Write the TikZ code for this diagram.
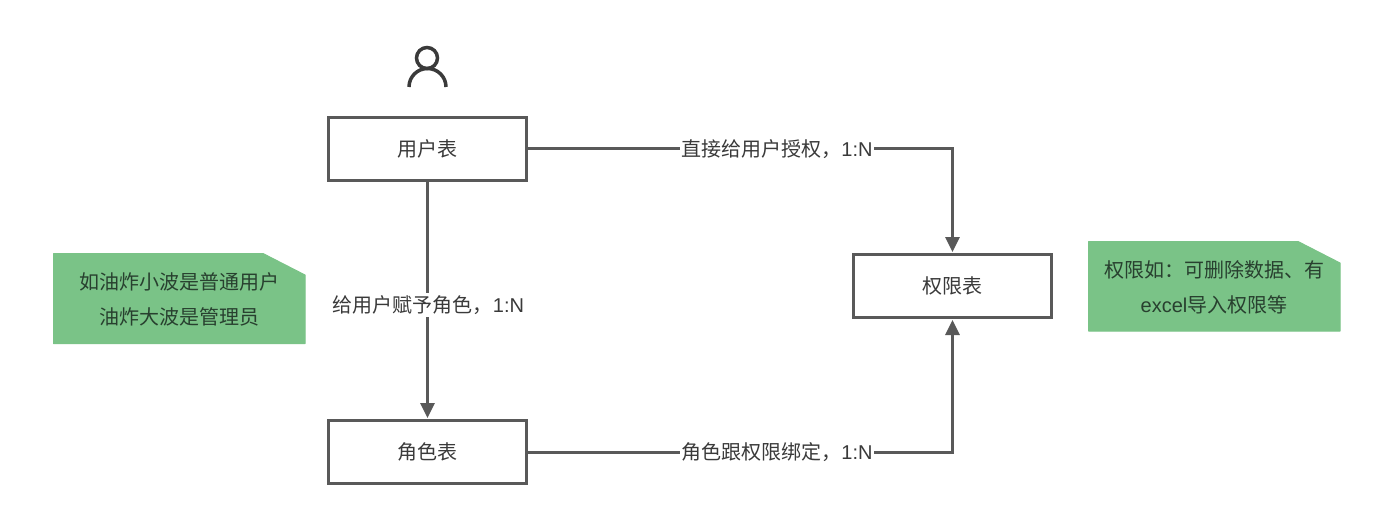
\documentclass[tikz,border=0pt]{standalone}
\usepackage{fontspec}
\setmainfont{Liberation Sans}
\newfontfamily\cjk{Noto Sans CJK SC}[Scale=1.0]
\usetikzlibrary{arrows.meta}
\definecolor{edgegray}{HTML}{595959}
\definecolor{inkgray}{HTML}{3A3A3A}
\definecolor{notegreen}{HTML}{7AC387}
\definecolor{noteink}{HTML}{28402F}
\tikzset{
  x=1pt,y=-1pt,
  tablebox/.style={draw=edgegray,line width=3pt,fill=white,minimum width=198pt,minimum height=63pt,inner sep=0pt,
    text=inkgray,font=\fontsize{20pt}{24pt}\selectfont\cjk},
  conn/.style={draw=edgegray,line width=3pt},
  connarrow/.style={conn,-{Triangle[length=15pt,width=14pt]},shorten >=1pt},
  edgelabel/.style={fill=white,inner xsep=1pt,inner ysep=2pt,text=inkgray,font=\fontsize{20pt}{24pt}\selectfont},
  notebody/.style={fill=notegreen,draw=notegreen,line width=1pt,line join=round},
  notetext/.style={align=center,text=noteink,inner sep=0pt,font=\fontsize{20pt}{35pt}\selectfont},
}
\begin{document}
\begin{tikzpicture}
\useasboundingbox (0,0) rectangle (1400,532);
\fill[white] (0,0) rectangle (1400,532);

% Table boxes
\node[tablebox] (users) at (427.5,149) {用户表};
\node[tablebox] (roles) at (427.5,452) {角色表};
\node[tablebox] (perms) at (952.5,286) {权限表};

% Person icon above the users table
\draw[draw=inkgray,line width=3.5pt] (427,58) circle (10.5pt);
\draw[draw=inkgray,line width=3.5pt] (409,87) arc[start angle=180,end angle=360,radius=18.5];

% Connectors
\draw[connarrow] (users.east) -| (perms.north);
\draw[connarrow] (roles.east) -| (perms.south);
\draw[connarrow] (users.south) -- (roles.north);

% Connector labels
\node[edgelabel] (lbldirect) at (777,149) {{\cjk 直接给用户授权，}1:N};
\node[edgelabel] (lblbind) at (777,452) {{\cjk 角色跟权限绑定，}1:N};
\node[edgelabel] (lblrole) at (428.5,305) {{\cjk 给用户赋予角色，}1:N};

% Notes with a cut corner
\path[notebody] (53.5,253.5) -- (263,253.5) -- (305,275) -- (305,343.5) -- (53.5,343.5) -- cycle;
\node[notetext] (noteleft) at (179,299) {\cjk 如油炸小波是普通用户\\\cjk 油炸大波是管理员};
\path[notebody] (1088.5,241.5) -- (1298,241.5) -- (1340,263) -- (1340,331) -- (1088.5,331) -- cycle;
\node[notetext] (noteright) at (1214,287) {\cjk 权限如：可删除数据、有\\excel{\cjk 导入权限等}};
\end{tikzpicture}
\end{document}
